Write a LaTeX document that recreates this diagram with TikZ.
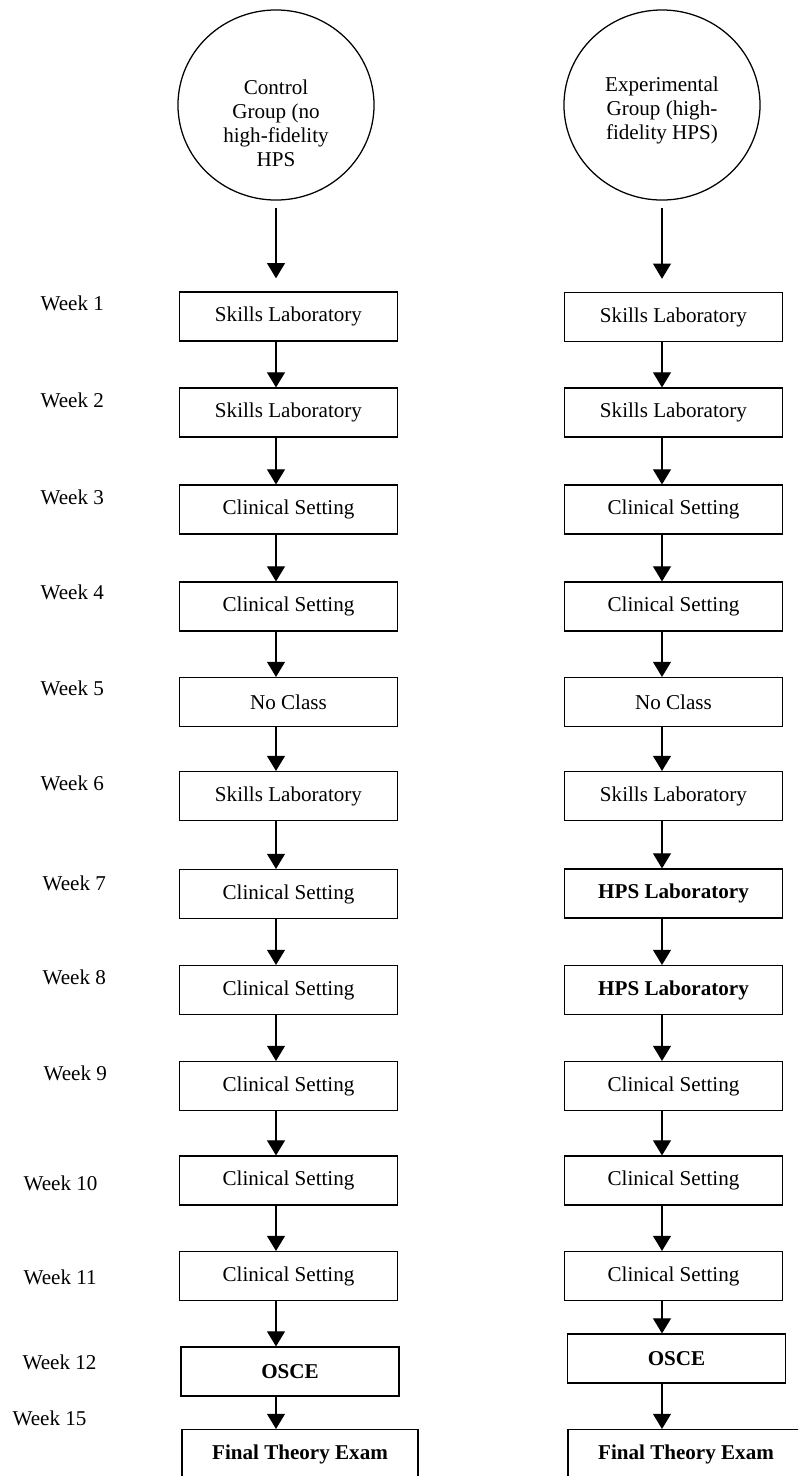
\documentclass[tikz,border=0pt]{standalone}
\usepackage{fontspec}
\setmainfont{Liberation Serif}
\usetikzlibrary{arrows.meta,shapes.geometric}

\begin{document}
\begin{tikzpicture}[x=0.025cm, y=-0.025cm, >={Triangle[length=0.38cm,width=0.45cm]},
    line width=0.9pt, font=\fontsize{15}{17}\selectfont,
    group/.style={ellipse, draw, minimum width=4.9cm, minimum height=4.75cm, align=center, inner sep=0pt},
    block/.style={rectangle, draw, minimum width=5.45cm, minimum height=1.22cm, inner sep=2pt},
    bold/.style={block, font=\fontsize{15}{17}\selectfont\bfseries},
    week/.style={anchor=west, inner sep=0pt}]
    \path [use as bounding box] (0,0) rectangle (798,1476);
    \clip (0,0) rectangle (798,1476);

    % Groups
    \node [group] (lgrp) at (276,105) {\rule{0pt}{36pt}Control\\Group (no\\high-fidelity\\HPS};
    \node [group] (rgrp) at (662,105) {\rule{0pt}{18pt}Experimental\\Group (high-\\fidelity HPS)};

    % Weeks
    \node [week] (w1)  at (40,303)  {Week 1};
    \node [week] (w2)  at (40,400)  {Week 2};
    \node [week] (w3)  at (40,497)  {Week 3};
    \node [week] (w4)  at (40,592)  {Week 4};
    \node [week] (w5)  at (40,688)  {Week 5};
    \node [week] (w6)  at (40,783)  {Week 6};
    \node [week] (w7)  at (42,883)  {Week 7};
    \node [week] (w8)  at (42,977)  {Week 8};
    \node [week] (w9)  at (43,1073) {Week 9};
    \node [week] (w10) at (23,1183) {Week 10};
    \node [week] (w11) at (23,1277) {Week 11};
    \node [week] (w12) at (22,1362) {Week 12};
    \node [week] (w15) at (12,1418) {Week 15};

    % Control column {l1, l2, ..., l15}
    \node [block] (l1)  at (288.5,316.5)  {Skills Laboratory};
    \node [block] (l2)  at (288.5,412.5)  {Skills Laboratory};
    \node [block] (l3)  at (288.5,509.5)  {Clinical Setting};
    \node [block] (l4)  at (288.5,606.5)  {Clinical Setting};
    \node [block] (l5)  at (288.5,702)    {No Class};
    \node [block] (l6)  at (288.5,796)    {Skills Laboratory};
    \node [block] (l7)  at (288.5,894)    {Clinical Setting};
    \node [block] (l8)  at (288.5,990)    {Clinical Setting};
    \node [block] (l9)  at (288.5,1086)   {Clinical Setting};
    \node [block] (l10) at (288.5,1180.5) {Clinical Setting};
    \node [block] (l11) at (288.5,1276)   {Clinical Setting};
    \node [bold]  (l12) at (290,1371.5)   {OSCE};
    \node [bold, minimum width=5.9cm] (l15) at (300,1454) {Final Theory Exam};

    % Experimental column {r1, r2, ..., r15}
    \node [block] (r1)  at (673.5,317)    {Skills Laboratory};
    \node [block] (r2)  at (673.5,412.5)  {Skills Laboratory};
    \node [block] (r3)  at (673.5,509.5)  {Clinical Setting};
    \node [block] (r4)  at (673.5,606.5)  {Clinical Setting};
    \node [block] (r5)  at (673.5,702)    {No Class};
    \node [block] (r6)  at (673.5,796)    {Skills Laboratory};
    \node [bold]  (r7)  at (673.5,893.5)  {HPS Laboratory};
    \node [bold]  (r8)  at (673.5,990)    {HPS Laboratory};
    \node [block] (r9)  at (673.5,1086)   {Clinical Setting};
    \node [block] (r10) at (673.5,1180.5) {Clinical Setting};
    \node [block] (r11) at (673.5,1276)   {Clinical Setting};
    \node [bold]  (r12) at (676.5,1358.5) {OSCE};
    \node [bold, minimum width=5.9cm] (r15) at (686,1454) {Final Theory Exam};

    % Paths (control)
    \path [->] (lgrp) edge [shorten <=0.18cm, shorten >=0.33cm] (lgrp |- l1.north);
    \path [->] (l1.south -| lgrp)  edge (l2.north -| lgrp);
    \path [->] (l2.south -| lgrp)  edge (l3.north -| lgrp);
    \path [->] (l3.south -| lgrp)  edge (l4.north -| lgrp);
    \path [->] (l4.south -| lgrp)  edge (l5.north -| lgrp);
    \path [->] (l5.south -| lgrp)  edge (l6.north -| lgrp);
    \path [->] (l6.south -| lgrp)  edge (l7.north -| lgrp);
    \path [->] (l7.south -| lgrp)  edge (l8.north -| lgrp);
    \path [->] (l8.south -| lgrp)  edge (l9.north -| lgrp);
    \path [->] (l9.south -| lgrp)  edge (l10.north -| lgrp);
    \path [->] (l10.south -| lgrp) edge (l11.north -| lgrp);
    \path [->] (l11.south -| lgrp) edge (l12.north -| lgrp);
    \path [->] (l12.south -| lgrp) edge (l15.north -| lgrp);

    % Paths (experimental)
    \path [->] (rgrp) edge [shorten <=0.18cm, shorten >=0.33cm] (rgrp |- r1.north);
    \path [->] (r1.south -| rgrp)  edge (r2.north -| rgrp);
    \path [->] (r2.south -| rgrp)  edge (r3.north -| rgrp);
    \path [->] (r3.south -| rgrp)  edge (r4.north -| rgrp);
    \path [->] (r4.south -| rgrp)  edge (r5.north -| rgrp);
    \path [->] (r5.south -| rgrp)  edge (r6.north -| rgrp);
    \path [->] (r6.south -| rgrp)  edge (r7.north -| rgrp);
    \path [->] (r7.south -| rgrp)  edge (r8.north -| rgrp);
    \path [->] (r8.south -| rgrp)  edge (r9.north -| rgrp);
    \path [->] (r9.south -| rgrp)  edge (r10.north -| rgrp);
    \path [->] (r10.south -| rgrp) edge (r11.north -| rgrp);
    \path [->] (r11.south -| rgrp) edge (r12.north -| rgrp);
    \path [->] (r12.south -| rgrp) edge (r15.north -| rgrp);

\end{tikzpicture}
\end{document}
